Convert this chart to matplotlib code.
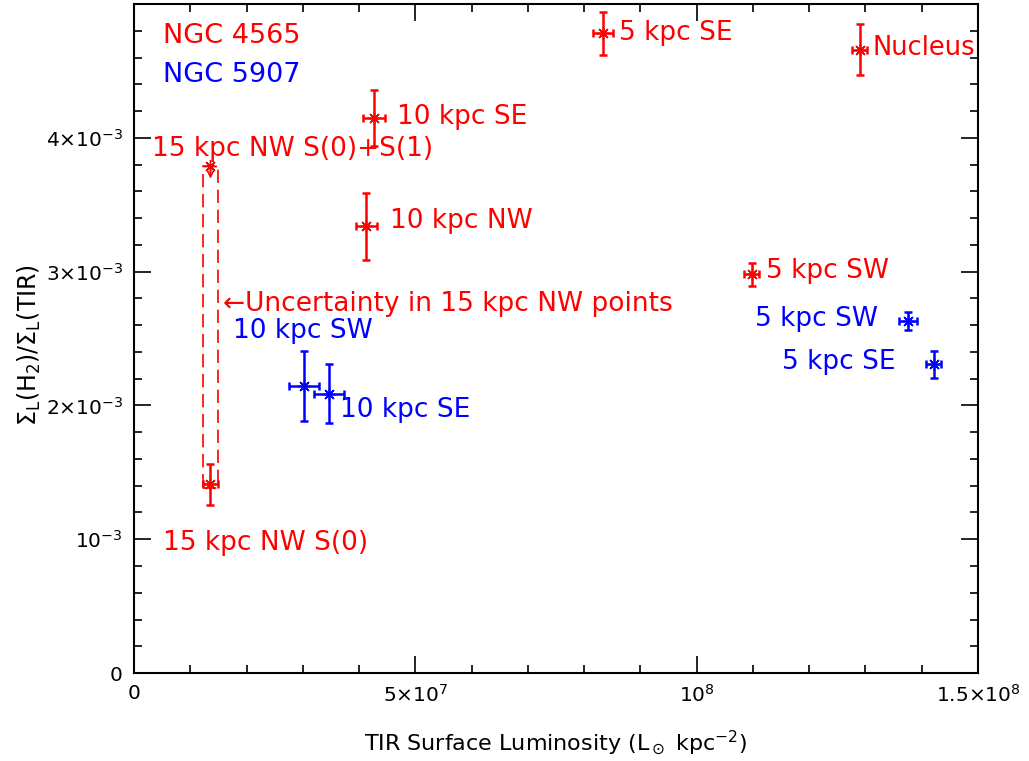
import numpy as np
import matplotlib
matplotlib.use('Agg')
import matplotlib.pyplot as plt
from matplotlib.ticker import FixedLocator, MultipleLocator

plt.rcParams['font.family'] = 'DejaVu Sans'
plt.rcParams['mathtext.default'] = 'regular'

# NGC 4565 regions (red)
red_names = ['5 kpc SE', 'Nucleus', '10 kpc SE', '10 kpc NW', '5 kpc SW', '15 kpc NW S(0)']
red_tir = [8.33e7, 1.290e8, 4.27e7, 4.13e7, 1.098e8, 1.36e7]
red_tir_err = [1.8e6, 1.3e6, 1.95e6, 1.9e6, 1.3e6, 1.3e6]
red_ratio = [4.78e-3, 4.66e-3, 4.15e-3, 3.34e-3, 2.98e-3, 1.41e-3]
red_ratio_err = [0.16e-3, 0.19e-3, 0.21e-3, 0.25e-3, 0.085e-3, 0.155e-3]

# 15 kpc NW with S(0)+S(1), an upper limit
nw15_tir = 1.36e7
nw15_ratio = 3.79e-3

# NGC 5907 regions (blue)
blue_names = ['10 kpc SW', '10 kpc SE', '5 kpc SW', '5 kpc SE']
blue_tir = [3.02e7, 3.47e7, 1.376e8, 1.421e8]
blue_tir_err = [2.67e6, 2.67e6, 1.6e6, 1.3e6]
blue_ratio = [2.145e-3, 2.087e-3, 2.63e-3, 2.306e-3]
blue_ratio_err = [0.26e-3, 0.22e-3, 0.068e-3, 0.10e-3]

# label text and anchor (left edge, vertical centre) in data units
red_labels = [
    ('5 kpc SE', 8.62e7, 4.784e-3),
    ('Nucleus', 1.3134e8, 4.672e-3),
    ('10 kpc SE', 4.674e7, 4.157e-3),
    ('15 kpc NW S(0)+S(1)', 3.2e6, 3.918e-3),
    ('10 kpc NW', 4.55e7, 3.381e-3),
    ('5 kpc SW', 1.1232e8, 3.007e-3),
    ('\u2190Uncertainty in 15 kpc NW points', 1.58e7, 2.761e-3),
    ('15 kpc NW S(0)', 5.15e6, 0.970e-3),
]
blue_labels = [
    ('10 kpc SW', 1.76e7, 2.560e-3),
    ('5 kpc SW', 1.1037e8, 2.649e-3),
    ('5 kpc SE', 1.1517e8, 2.321e-3),
    ('10 kpc SE', 3.661e7, 1.963e-3),
]

fig = plt.figure(figsize=(10.29, 7.61), dpi=100)
ax = fig.add_axes([0.1302, 0.1156, 0.8202, 0.8791])

star = (8, 2, 0)
ekw = dict(fmt='none', elinewidth=1.8, capsize=3.2, capthick=1.8)
ax.errorbar(red_tir, red_ratio, xerr=red_tir_err, yerr=red_ratio_err,
            ecolor='red', **ekw)
ax.errorbar(blue_tir, blue_ratio, xerr=blue_tir_err, yerr=blue_ratio_err,
            ecolor='blue', **ekw)
ax.plot(red_tir, red_ratio, ls='none', marker=star, ms=9, mew=1.0, color='red')
ax.plot(blue_tir, blue_ratio, ls='none', marker=star, ms=9, mew=1.0, color='blue')

# upper limit point with its arrow
ax.plot([nw15_tir], [nw15_ratio], ls='none', marker=star, ms=9, mew=1.0, color='red')
ax.annotate('', xy=(nw15_tir, nw15_ratio - 0.095e-3), xytext=(nw15_tir, nw15_ratio),
            arrowprops=dict(arrowstyle='->', color='red', lw=1.2,
                            shrinkA=0, shrinkB=0, mutation_scale=10))

# dashed box spanning the 15 kpc NW range
s0_tir, s0_ratio, s0_err = red_tir[5], red_ratio[5], red_tir_err[5]
bx = [s0_tir - s0_err, s0_tir + s0_err, s0_tir + s0_err, s0_tir - s0_err, s0_tir - s0_err]
by = [s0_ratio - 0.03e-3, s0_ratio - 0.03e-3, nw15_ratio, nw15_ratio, s0_ratio - 0.03e-3]
ax.plot(bx, by, color='red', lw=1.2, ls=(0, (8, 4)))

for txt, x, y in red_labels:
    size = 18.5 if txt == 'Nucleus' else 19
    ax.text(x, y, txt, color='red', fontsize=size, ha='left', va='center')
for txt, x, y in blue_labels:
    ax.text(x, y, txt, color='blue', fontsize=19, ha='left', va='center')

ax.text(5.15e6, 4.761e-3, 'NGC 4565', color='red', fontsize=19.5, ha='left', va='center')
ax.text(5.15e6, 4.470e-3, 'NGC 5907', color='blue', fontsize=19.5, ha='left', va='center')

ax.set_xlim(0, 1.5e8)
ax.set_ylim(0, 5e-3)

ax.xaxis.set_major_locator(FixedLocator([0, 5e7, 1e8, 1.5e8]))
ax.xaxis.set_minor_locator(MultipleLocator(1e7))
ax.set_xticklabels(['0', r'$5{\times}10^7$', r'$10^8$', r'$1.5{\times}10^8$'])
ax.yaxis.set_major_locator(FixedLocator([0, 1e-3, 2e-3, 3e-3, 4e-3]))
ax.yaxis.set_minor_locator(MultipleLocator(2e-4))
ax.set_yticklabels(['0', r'$10^{-3}$', r'$2{\times}10^{-3}$', r'$3{\times}10^{-3}$',
                    r'$4{\times}10^{-3}$'])

ax.tick_params(which='both', direction='in', top=True, right=True, labelsize=14.5,
               width=1.2, color='black')
ax.tick_params(which='major', length=12, pad=8)
ax.tick_params(which='minor', length=6)
for s in ax.spines.values():
    s.set_linewidth(1.5)

ax.set_xlabel(r'TIR Surface Luminosity (L$_\odot$ kpc$^{-2}$)', fontsize=16)
ax.xaxis.set_label_coords(0.5, -0.082)
ax.set_ylabel(r'$\Sigma_L(H_2)/\Sigma_L(TIR)$', fontsize=17)
ax.yaxis.set_label_coords(-0.108, 0.49)

fig.savefig('out.png', dpi=100)
